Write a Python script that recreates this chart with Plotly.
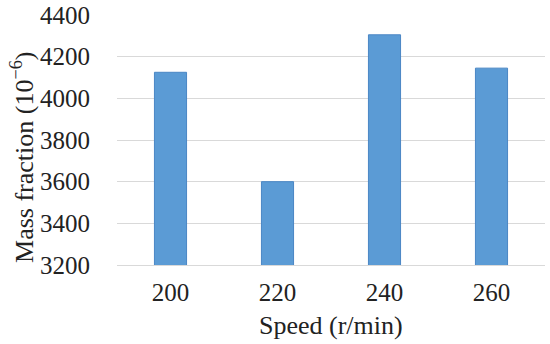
import plotly.graph_objects as go

# Data
speeds = ['200', '220', '240', '260']
mass_fraction = [4125, 3600, 4305, 4145]
y_ticks = [3200, 3400, 3600, 3800, 4000, 4200, 4400]

x_title = 'Speed (r/min)'
y_title = 'Mass fraction (10<sup>−6</sup>)'

font_family = "Liberation Serif, Times New Roman, serif"

fig = go.Figure()
fig.add_trace(go.Bar(
    x=speeds,
    y=mass_fraction,
    width=0.3,
    marker=dict(color='#5b9bd5', line=dict(color='#4a86c5', width=1)),
))

fig.update_layout(
    width=550, height=344,
    margin=dict(l=117, r=5, t=15, b=79),
    paper_bgcolor='white', plot_bgcolor='white',
    font=dict(family=font_family, size=25, color='#222222'),
    showlegend=False,
)
fig.update_xaxes(
    tickfont=dict(family=font_family, size=25),
    showline=True, linecolor='#d9d9d9', linewidth=1,
    showgrid=False, ticks='', ticklabelstandoff=5,
    automargin=False,
)
fig.update_yaxes(
    range=[3200, 4400], tickvals=y_ticks,
    tickfont=dict(family=font_family, size=25),
    showgrid=True, gridcolor='#d9d9d9', gridwidth=1,
    zeroline=False, ticks='', ticklabelstandoff=26,
    automargin=False,
)

# axis titles as annotations so they sit where the reference has them
fig.add_annotation(text=x_title, xref='paper', yref='paper', x=0.5, y=-0.24,
                   xanchor='center', yanchor='middle', showarrow=False,
                   font=dict(family=font_family, size=26, color='#222222'))
fig.add_annotation(text=y_title, xref='paper', yref='paper', x=-0.222, y=0.432,
                   xanchor='center', yanchor='middle', showarrow=False, textangle=-90,
                   font=dict(family=font_family, size=26, color='#222222'))

# drop the page's default body margin so the figure starts at the window corner
fig.write_html("out.html", config={'displayModeBar': False},
               post_script="document.body.style.margin='0';")
